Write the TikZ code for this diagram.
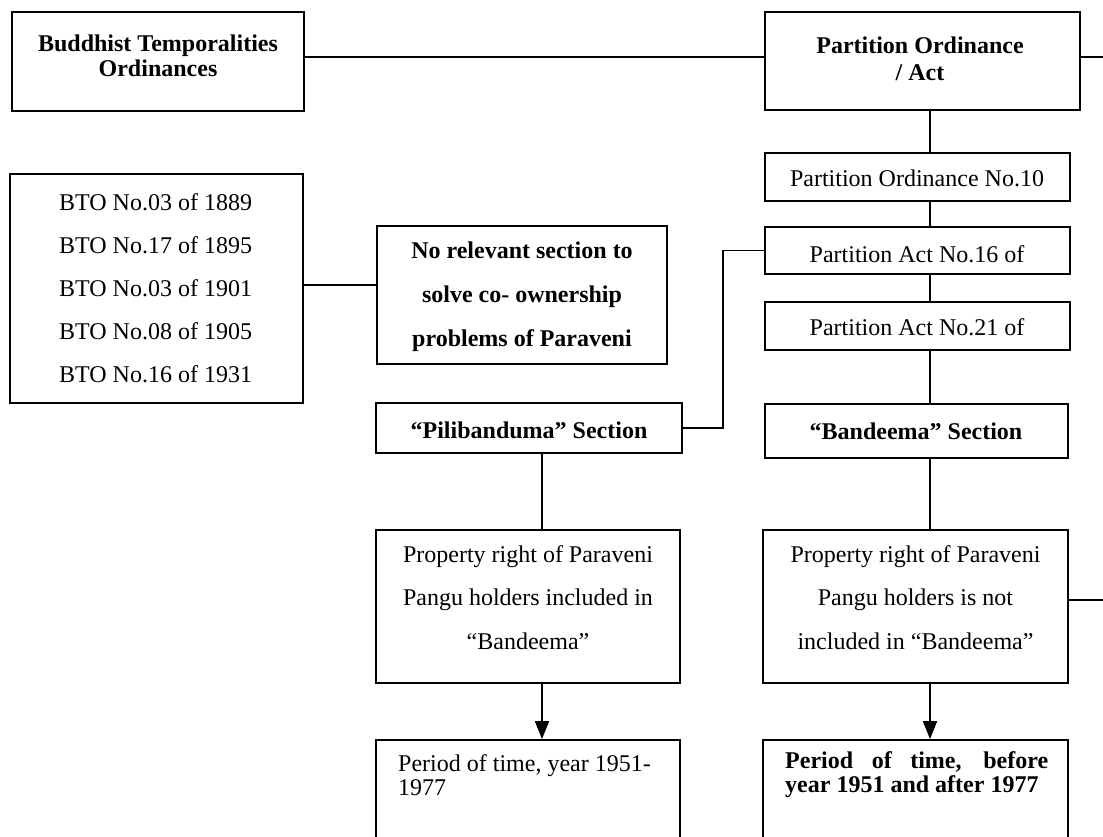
\documentclass[tikz,border=0pt]{standalone}
\usepackage{fontspec}
\setmainfont{Liberation Serif}
\usetikzlibrary{arrows.meta}
\begin{document}
\begin{tikzpicture}[x=1pt,y=-1pt,
  box/.style={draw, line width=1.8pt, inner sep=0pt},
  txt/.style={inner sep=0pt, align=center, font=\fontsize{24}{#1}\selectfont},
  btxt/.style={inner sep=0pt, align=center, font=\fontsize{24}{#1}\selectfont\bfseries},
  link/.style={line width=1.8pt},
  arr/.style={line width=1.8pt, -{Triangle[width=14pt,length=18pt]}}]
\useasboundingbox (0,0) rectangle (1103,836);
% boxes
\node[box, minimum width=292pt, minimum height=99pt] (bto) at (158,61.5) {};
\node[box, minimum width=315pt, minimum height=98pt] (part) at (922.5,61) {};
\node[box, minimum width=305pt, minimum height=48pt] (no10) at (917.5,177) {};
\node[box, minimum width=305pt, minimum height=47pt] (no16) at (917.5,250.5) {};
\node[box, minimum width=305pt, minimum height=48pt] (no21) at (917.5,326) {};
\node[box, minimum width=303pt, minimum height=54pt] (band) at (916.5,431) {};
\node[box, minimum width=293pt, minimum height=229pt] (btol) at (156.5,288.5) {};
\node[box, minimum width=290pt, minimum height=138pt] (norel) at (522,295) {};
\node[box, minimum width=306pt, minimum height=50pt] (pili) at (529,428) {};
\node[box, minimum width=304pt, minimum height=153pt] (propL) at (528,606.5) {};
\node[box, minimum width=305pt, minimum height=153pt] (propR) at (915.5,606.5) {};
\node[box, minimum width=304pt, minimum height=110pt] (perL) at (528,795) {};
\node[box, minimum width=305pt, minimum height=110pt] (perR) at (915.5,795) {};
% texts
\node[btxt=25] (tbto) at (158,55.5) {Buddhist Temporalities\\Ordinances};
\node[btxt=27] (tpart) at (920,58.5) {Partition Ordinance\\/ Act};
\node[txt=24] (tno10) at (917,178) {Partition Ordinance No.10};
\node[txt=24] (tno16) at (917,254) {Partition Act No.16 of};
\node[txt=24] (tno21) at (917,327) {Partition Act No.21 of};
\node[btxt=24] (tband) at (916,431) {“Bandeema” Section};
\node[txt=43, align=left, anchor=west] (tbtol) at (59,288) {BTO No.03 of 1889\\BTO No.17 of 1895\\BTO No.03 of 1901\\BTO No.08 of 1905\\BTO No.16 of 1931};
\node[btxt=44] (tnorel) at (522,296.5) {No relevant section to\\solve co- ownership\\problems of Paraveni};
\node[btxt=24] (tpili) at (529,430) {“Pilibanduma” Section};
\node[txt=43.5] (tpropL) at (528,597.5) {Property right of Paraveni\\Pangu holders included in\\“Bandeema”};
\node[txt=43.5] (tpropR) at (915.5,597.5) {Property right of Paraveni\\Pangu holders is not\\included in “Bandeema”};
\node[txt=24, align=left, anchor=west] (tperL) at (398,775) {Period of time, year 1951-\\1977};
\node[btxt=24, align=left, anchor=west] (tperR) at (785,775) {\makebox[263pt][s]{Period of time, before}\\year 1951 and after 1977};
% helper coordinates
\coordinate (cx) at (930,0);
\coordinate (lx) at (542,0);
\coordinate (j1) at (0,285);
\coordinate (bend) at (723,428);
\coordinate (edgeTop) at (1103,57);
\coordinate (edgeMid) at (1103,600);
% connectors
\draw[link] ([yshift=4.5pt]bto.east) -- ([yshift=4pt]part.west);
\draw[link] ([yshift=4pt]part.east) -- (edgeTop);
\draw[link] (part.south -| cx) -- (no10.north -| cx);
\draw[link] (no10.south -| cx) -- (no16.north -| cx);
\draw[link] (no16.south -| cx) -- (no21.north -| cx);
\draw[link] (no21.south -| cx) -- (band.north -| cx);
\draw[link] (btol.east |- j1) -- (norel.west |- j1);
\draw[link] (no16.west) -| (bend) -- (pili.east);
\draw[link] (pili.south -| lx) -- (propL.north -| lx);
\draw[arr] (propL.south -| lx) -- (perL.north -| lx);
\draw[link] (band.south -| cx) -- (propR.north -| cx);
\draw[arr] (propR.south -| cx) -- (perR.north -| cx);
\draw[link] (propR.east |- edgeMid) -- (edgeMid);
\end{tikzpicture}
\end{document}
